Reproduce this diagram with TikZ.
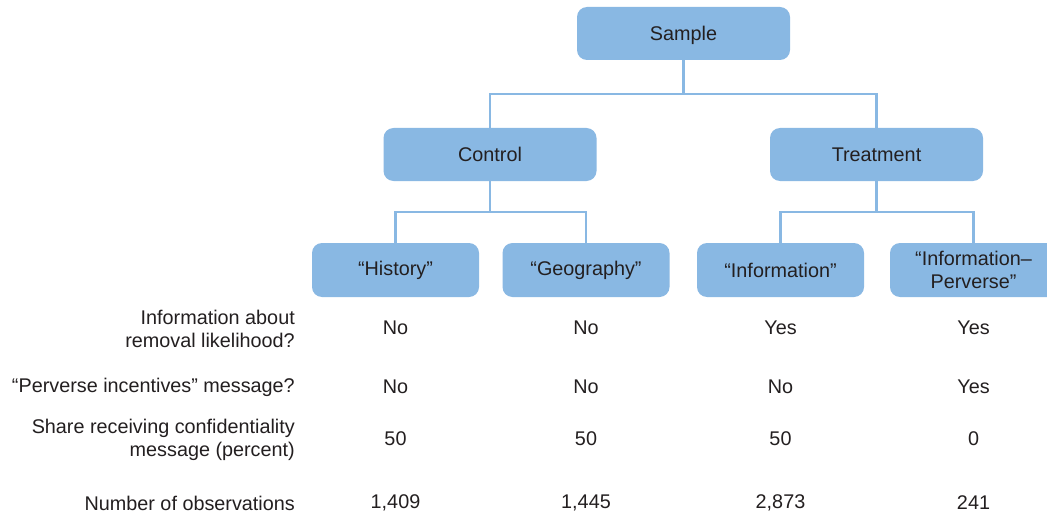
\documentclass[tikz,border=0pt]{standalone}
\usepackage{fontspec}
\setmainfont{Liberation Sans}
\definecolor{boxblue}{HTML}{89B8E3}
\definecolor{txt}{HTML}{231F20}
\begin{document}
\begin{tikzpicture}[x=1pt,y=-1pt,
  every node/.style={text=txt,font=\fontsize{19.8}{23}\selectfont},
  bigbox/.style={rectangle,rounded corners=10pt,fill=boxblue,minimum width=213pt,minimum height=53pt,inner sep=0pt,align=center},
  smallbox/.style={rectangle,rounded corners=10pt,fill=boxblue,minimum width=167pt,minimum height=54pt,inner sep=0pt,align=center},
  conn/.style={draw=boxblue,line width=2.6pt},
  rowlab/.style={anchor=east,align=right,inner sep=0pt},
  val/.style={anchor=center,inner sep=0pt}]
\useasboundingbox (0,0) rectangle (1047,516);
\clip (0,0) rectangle (1047,516);
\fill[white] (0,0) rectangle (1047,516);
% boxes
\node[bigbox,text depth=-1.5pt] (sample) at (683.5,33.5) {Sample};
\node[bigbox,text depth=-1.5pt] (control) at (490,154.5) {Control};
\node[bigbox,text depth=-1.5pt] (treat) at (876.5,154.5) {Treatment};
\node[smallbox] (hist) at (395.5,270) {\raisebox{-2pt}{“History”}};
\node[smallbox] (geo) at (586,270) {“Geography”};
\node[smallbox] (info) at (780.5,270) {“Information”};
\node[smallbox] (ip) at (973.5,270) {“Information–\\Perverse”};
% connectors
\coordinate (sj) at (683.5,94);
\coordinate (cj) at (490,212);
\coordinate (tj) at (876.5,212);
\draw[conn] (sample.south) -- (sj);
\draw[conn] (control.north) |- (sj) -| (treat.north);
\draw[conn] (control.south) -- (cj);
\draw[conn] (hist.north) |- (cj) -| (geo.north);
\draw[conn] (treat.south) -- (tj);
\draw[conn] (info.north) |- (tj) -| (ip.north);
% row labels
\node[rowlab] (r1) at (295,329) {Information about\\removal likelihood?};
\node[rowlab] (r2) at (295,387) {“Perverse incentives” message?};
\node[rowlab] (r3) at (295,440) {Share receiving confidentiality\\message (percent)};
\node[rowlab] (r4) at (295,503) {Number of observations};
% values
\node[val] (v11) at (395.5,328) {No};
\node[val] (v12) at (586,328) {No};
\node[val] (v13) at (780.5,328) {Yes};
\node[val] (v14) at (973.5,328) {Yes};
\node[val] (v21) at (395.5,387) {No};
\node[val] (v22) at (586,387) {No};
\node[val] (v23) at (780.5,387) {No};
\node[val] (v24) at (973.5,387) {Yes};
\node[val] (v31) at (395.5,439) {50};
\node[val] (v32) at (586,439) {50};
\node[val] (v33) at (780.5,439) {50};
\node[val] (v34) at (973.5,439) {0};
\node[val] (v41) at (395.5,503) {1,409};
\node[val] (v42) at (586,503) {1,445};
\node[val] (v43) at (780.5,503) {2,873};
\node[val] (v44) at (973.5,503) {241};
\end{tikzpicture}
\end{document}
